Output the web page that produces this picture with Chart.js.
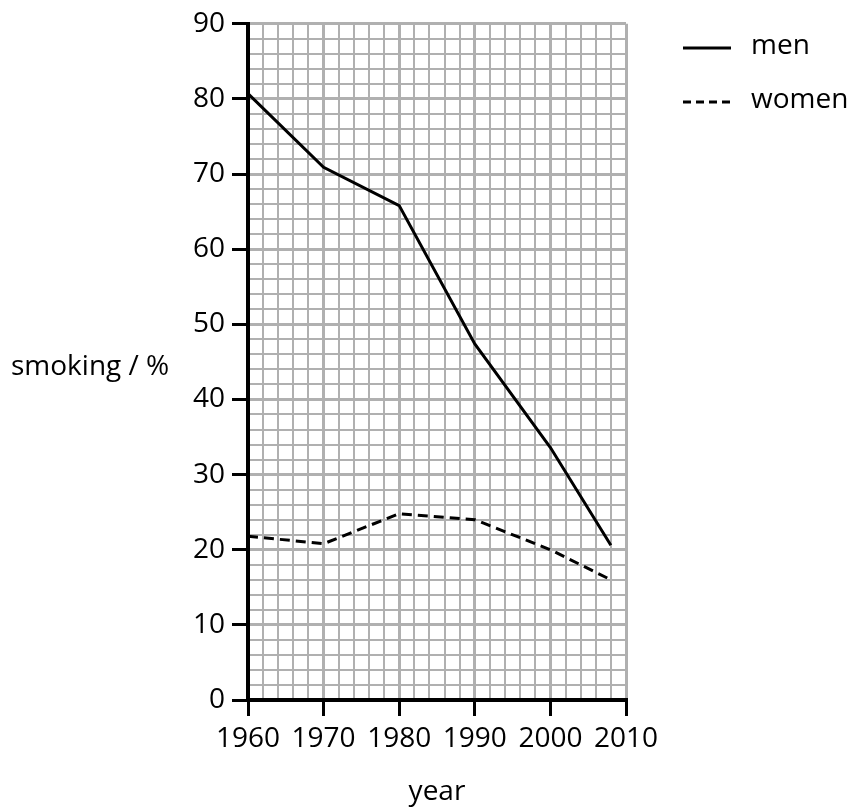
<!DOCTYPE html>
<html>
<head>
<meta charset="utf-8">
<script src="https://cdn.jsdelivr.net/npm/chart.js@4/dist/chart.umd.min.js"></script>
<style>
    html, body { margin: 0; padding: 0; background: #fff; }
    #chart-wrap { width: 854px; height: 807px; }
</style>
</head>
<body>
<div id="chart-wrap"><canvas id="smoking" width="854" height="807"></canvas></div>
<script>
// Data
var years = [1960, 1970, 1980, 1990, 2000, 2008];
var menValues = [80.7, 70.9, 65.8, 47.4, 33.6, 20.6];
var womenValues = [21.8, 20.8, 24.8, 24.0, 20.0, 16.0];
var seriesLabels = ['men', 'women'];
var xTickLabels = [1960, 1970, 1980, 1990, 2000, 2010];
var yTickLabels = [0, 10, 20, 30, 40, 50, 60, 70, 80, 90];

var FONT = 'Open Sans';
var FONT_SIZE = 28;

function toPoints(values)
{
    return values.map(function (v, i) {
        return { x: years[i], y: v };
    });
}

// Major lines every 10, minor every 2
function isMajor(ctx, list)
{
    return ctx.tick && list.indexOf(ctx.tick.value) !== -1;
}

function gridOptions(list)
{
    return {
        color: '#b0b0b0',
        lineWidth: function (ctx) { return isMajor(ctx, list) ? 3 : 2; },
        tickColor: function (ctx) { return isMajor(ctx, list) ? '#000' : 'rgba(0,0,0,0)'; },
        tickWidth: 3,
        tickLength: 16,
        drawTicks: true
    };
}

// Horizontal y title, x title and legend drawn as text on the canvas
var extrasPlugin = {
    id: 'extras',
    afterDraw: function (chart) {
        var ctx = chart.ctx;
        ctx.save();
        ctx.fillStyle = '#000';
        ctx.font = FONT_SIZE + 'px "' + FONT + '"';
        ctx.textBaseline = 'middle';

        // Axis titles
        ctx.textAlign = 'left';
        ctx.fillText('smoking / %', 11, 367);
        ctx.textAlign = 'center';
        ctx.fillText('year', 437, 792);

        // Legend
        var rows = [
            { label: seriesLabels[0], y: 48, dash: [] },
            { label: seriesLabels[1], y: 102, dash: [8, 5] }
        ];
        rows.forEach(function (row) {
            ctx.beginPath();
            ctx.setLineDash(row.dash);
            ctx.lineWidth = 3;
            ctx.strokeStyle = '#000';
            ctx.moveTo(683, row.y);
            ctx.lineTo(731, row.y);
            ctx.stroke();
            ctx.setLineDash([]);
            ctx.textAlign = 'left';
            ctx.fillText(row.label, 751, row.y - 2);
        });
        ctx.restore();
    }
};

var ctx = document.getElementById('smoking').getContext('2d');
window.smokingChart = new Chart(ctx, {
    type: 'line',
    data: {
        datasets: [{
            label: seriesLabels[0],
            data: toPoints(menValues),
            borderColor: '#000',
            borderWidth: 3,
            pointRadius: 0,
            tension: 0,
            fill: false
        }, {
            label: seriesLabels[1],
            data: toPoints(womenValues),
            borderColor: '#000',
            borderWidth: 3,
            borderDash: [10, 6],
            pointRadius: 0,
            tension: 0,
            fill: false
        }]
    },
    options: {
        responsive: false,
        animation: false,
        layout: {
            padding: { left: 0, right: 228, top: 22, bottom: 0 }
        },
        plugins: {
            legend: { display: false },
            tooltip: { enabled: false },
            title: { display: false }
        },
        scales: {
            x: {
                type: 'linear',
                min: 1960,
                max: 2010,
                grid: gridOptions(xTickLabels),
                border: { color: '#000', width: 4 },
                afterFit: function (scale) { scale.height = 107; },
                ticks: {
                    stepSize: 2,
                    autoSkip: false,
                    maxRotation: 0,
                    padding: 6,
                    color: '#000',
                    font: { size: FONT_SIZE, family: FONT },
                    callback: function (value) {
                        return xTickLabels.indexOf(value) !== -1 ? String(value) : '';
                    }
                }
            },
            y: {
                type: 'linear',
                min: 0,
                max: 90,
                grid: gridOptions(yTickLabels),
                border: { color: '#000', width: 4 },
                afterFit: function (scale) { scale.width = 248; },
                ticks: {
                    stepSize: 2,
                    autoSkip: false,
                    padding: 7,
                    color: '#000',
                    font: { size: FONT_SIZE, family: FONT },
                    callback: function (value) {
                        return yTickLabels.indexOf(value) !== -1 ? String(value) : '';
                    }
                }
            }
        }
    },
    plugins: [extrasPlugin]
});
</script>
</body>
</html>
